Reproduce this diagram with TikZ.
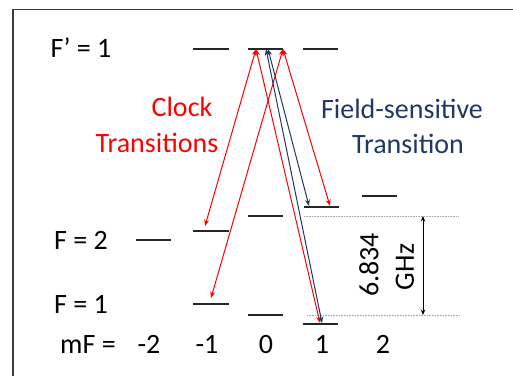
\documentclass[tikz,border=0pt]{standalone}
\usepackage{fontspec}
\setmainfont{Carlito}
\usetikzlibrary{arrows.meta}
\definecolor{navy}{RGB}{31,56,100}
\definecolor{framegray}{RGB}{60,60,60}
\begin{document}
\begin{tikzpicture}[x=1pt,y=-1pt,
  lvl/.style={line width=1.3pt, black!85},
  lbl/.style={font=\fontsize{28}{30}\selectfont, inner sep=0pt, anchor=base},
  tip/.style={{Stealth[length=6.5pt,width=5pt]}-{Stealth[length=6.5pt,width=5pt]}},
  redarr/.style={tip, red, line width=1pt},
  bluearr/.style={tip, navy, line width=1pt},
  gaparr/.style={{Stealth[length=5.5pt,width=4.5pt]}-{Stealth[length=5.5pt,width=4.5pt]}, black, line width=0.8pt},
  dots/.style={gray!70, densely dotted, line width=0.6pt}
]
\useasboundingbox (0,0) rectangle (513,375);
% frame
\draw[framegray, line width=1.3pt] (13,380) -- (13,9.5) -- (520,9.5);

% excited levels F'=1
\draw[lvl] (193,49) -- (229,49);
\draw[lvl] (248,49) -- (283,49);
\draw[lvl] (303,49) -- (338,49);
% F=2 levels
\draw[lvl] (136,240) -- (171,240);
\draw[lvl] (193,231) -- (229,231);
\draw[lvl] (248,216) -- (283,216);
\draw[lvl] (304,207) -- (339,207);
\draw[lvl] (362,196) -- (397,196);
% F=1 levels
\draw[lvl] (193,304) -- (229,304);
\draw[lvl] (248,315) -- (283,315);
\draw[lvl] (303,324) -- (338,324);

% dotted guides
\draw[dots] (304,216) -- (458,216);
\draw[dots] (307,315) -- (460,315);

% arrow end points
\coordinate (tl) at (256,49);
\coordinate (tr) at (283,49);
\coordinate (tb1) at (268,49);
\coordinate (tb2) at (266,49);
\coordinate (a2m) at (205,226);
\coordinate (a1m) at (211,298);
\coordinate (a2p) at (330,206);
\coordinate (a1p) at (320,323);
\coordinate (b2p) at (309,206);
\coordinate (b1p) at (322,323);
\coordinate (gtop) at (423,216);
\coordinate (gbot) at (423,315);

\draw[redarr] (tl) -- (a2m);
\draw[redarr] (tr) -- (a1m);
\draw[redarr] (tr) -- (a2p);
\draw[redarr] (tl) -- (a1p);
\draw[bluearr] (tb1) -- (b2p);
\draw[bluearr] (tb2) -- (b1p);
\draw[gaparr] (gtop) -- (gbot);

% labels
\node[lbl] (lFp) at (81,57) {F’ = 1};
\node[lbl] (lF2) at (81,249) {F = 2};
\node[lbl] (lF1) at (81,313) {F = 1};
\node[lbl] (lmF) at (88,353) {mF =};
\node[lbl] (m2n) at (149,353) {-2};
\node[lbl] (m1n) at (207,353) {-1};
\node[lbl] (m0) at (266,353) {0};
\node[lbl] (m1) at (322,353) {1};
\node[lbl] (m2) at (383,353) {2};
\node[lbl, red] (clk1) at (182,116) {Clock};
\node[lbl, red] (clk2) at (157,152) {Transitions};
\node[lbl, navy] (fs1) at (402,118) {Field-sensitive};
\node[lbl, navy] (fs2) at (408,153) {Transition};
\node[font=\fontsize{28}{30}\selectfont, inner sep=0pt, rotate=90] (ghz1) at (369,265) {6.834};
\node[font=\fontsize{28}{30}\selectfont, inner sep=0pt, rotate=90] (ghz2) at (405,267) {GHz};
\end{tikzpicture}
\end{document}
